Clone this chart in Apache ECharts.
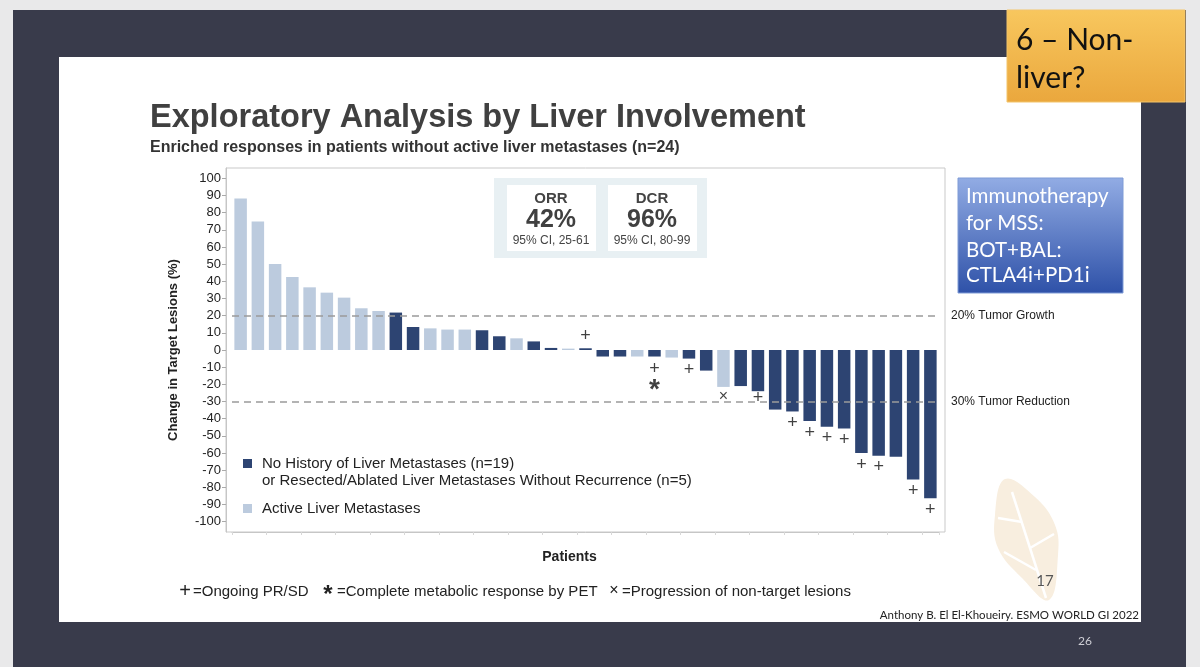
<!DOCTYPE html>
<html>
<head>
<meta charset="utf-8">
<script src="https://cdn.jsdelivr.net/npm/echarts@6.0.0/dist/echarts.min.js"></script>
<style>
html,body{margin:0;padding:0;background:#e9e9ea;}
#chart{width:1200px;height:667px;}
</style>
</head>
<body>
<div id="chart"></div>
<script>
// ---- data ----
const patients = ['P1','P2','P3','P4','P5','P6','P7','P8','P9','P10','P11','P12','P13','P14','P15','P16','P17','P18','P19','P20','P21','P22','P23','P24','P25','P26','P27','P28','P29','P30','P31','P32','P33','P34','P35','P36','P37','P38','P39','P40','P41'];
const changePct = [88.2, 74.8, 50.1, 42.5, 36.5, 33.4, 30.5, 24.3, 22.7, 21.8, 13.4, 12.6, 11.9, 11.9, 11.5, 8, 6.8, 5, 1.2, 0.8, 1.0, -3.8, -3.8, -3.8, -3.8, -4.4, -5, -12, -21.5, -21, -24, -34.7, -35.8, -41.4, -44.7, -45.7, -60, -61.6, -62.2, -75.4, -86.3];
// N = no history / resected-ablated liver mets, A = active liver metastases
const liverGroup = ['A','A','A','A','A','A','A','A','A','N','N','A','A','A','N','N','A','N','N','A','N','N','N','A','N','A','N','N','A','N','N','N','N','N','N','N','N','N','N','N','N'];
// markers: [patient index, y position]
const ongoingMarks = [[20, 8], [24, -10.8], [26, -11.8], [30, -27.7], [32, -42.6], [33, -48.6], [34, -51.5], [35, -52.3], [36, -66.8], [37, -68], [39, -82.3], [40, -93]];
const cmrMarks = [[24, -20]];
const progressionMarks = [[28, -26.3]];
const yTicks = [-100,-90,-80,-70,-60,-50,-40,-30,-20,-10,0,10,20,30,40,50,60,70,80,90,100];
const refLines = [{value: 20, label: '20% Tumor Growth'}, {value: -30, label: '30% Tumor Reduction'}];
const seriesNames = ['No History of Liver Metastases (n=19)', 'Active Liver Metastases'];

const DARK = '#2d4472', LIGHT = '#bccbde';
const FONT = '"Liberation Sans", Arial, sans-serif';
const SFONT = 'Lato, "Open Sans", sans-serif';

const darkData = changePct.map((v, i) => liverGroup[i] === 'N' ? v : '-');
const lightData = changePct.map((v, i) => liverGroup[i] === 'A' ? v : '-');

function markSeries(name, data, glyph, size, weight, dy) {
  return {
    name: name, type: 'scatter', data: data, symbolSize: 1, z: 5,
    itemStyle: {color: 'rgba(0,0,0,0)'}, silent: true,
    label: {show: true, position: 'inside', formatter: glyph, color: '#111', offset: [0, dy],
      fontSize: size, fontWeight: weight, fontFamily: FONT}
  };
}

const chart = echarts.init(document.getElementById('chart'), null, {renderer: 'canvas'});
const option = {
  animation: false,
  backgroundColor: 'transparent',
  grid: {left: 232, right: 261, top: 168, bottom: 135},
  xAxis: {
    type: 'category', data: patients,
    axisLine: {onZero: false, lineStyle: {color: '#c6c6c6'}},
    axisTick: {show: true, length: 3, interval: 1, lineStyle: {color: '#d8d8d8'}},
    axisLabel: {show: false},
    name: 'Patients', nameLocation: 'middle', nameGap: 18,
    nameTextStyle: {fontFamily: FONT, fontWeight: 'bold', fontSize: 14, color: '#222', padding: [0, 32, 0, 0]}
  },
  yAxis: {
    type: 'value', min: -106, max: 106, offset: 6,
    splitLine: {show: false},
    axisLine: {show: true, lineStyle: {color: '#c6c6c6'}},
    axisTick: {show: true, length: 4, customValues: yTicks, lineStyle: {color: '#aaa'}},
    axisLabel: {customValues: yTicks, fontFamily: FONT, fontSize: 13, color: '#222', margin: 5},
    name: 'Change in Target Lesions (%)', nameLocation: 'middle', nameGap: 46,
    nameTextStyle: {fontFamily: FONT, fontWeight: 'bold', fontSize: 13, color: '#222'}
  },
  legend: [
    {data: [seriesNames[0]], left: 238, top: 451, orient: 'vertical', selectedMode: false,
      icon: 'rect', itemWidth: 9, itemHeight: 9, itemGap: 0,
      textStyle: {fontFamily: FONT, fontSize: 15, color: '#222', padding: [0, 0, 0, 5]}},
    {data: [seriesNames[1]], left: 238, top: 496, orient: 'vertical', selectedMode: false,
      icon: 'rect', itemWidth: 9, itemHeight: 9, itemGap: 0,
      textStyle: {fontFamily: FONT, fontSize: 15, color: '#222', padding: [0, 0, 0, 5]}}
  ],
  series: [
    {
      name: seriesNames[0], type: 'bar', data: darkData, barWidth: 12.5, barGap: '-100%',
      itemStyle: {color: DARK}, z: 3,
      markLine: {
        silent: true, symbol: 'none',
        lineStyle: {color: '#9b9b9b', type: [7, 5], width: 1.5},
        label: {position: 'end', distance: 12, color: '#222', fontFamily: FONT, fontSize: 12,
          formatter: p => p.name},
        data: refLines.map(r => ({yAxis: r.value, name: r.label}))
      }
    },
    {name: seriesNames[1], type: 'bar', data: lightData, barWidth: 12.5, barGap: '-100%',
      itemStyle: {color: LIGHT}, z: 3},
    markSeries('Ongoing PR/SD', ongoingMarks, '+', 18, 'normal', 0),
    markSeries('Complete metabolic response by PET', cmrMarks, '*', 28, 'bold', 6),
    markSeries('Progression of non-target lesions', progressionMarks, '×', 16, 'normal', 1)
  ],
  graphic: {elements: [
    // slide frame
    {type: 'rect', z: -10, shape: {x: 13, y: 10, width: 1173, height: 667}, style: {fill: '#393b4b'}},
    {type: 'rect', z: -9, shape: {x: 59, y: 57, width: 1082, height: 565}, style: {fill: '#ffffff'}},
    // orange note
    {type: 'rect', z: -8, shape: {x: 1007, y: 10, width: 178, height: 92},
      style: {fill: new echarts.graphic.LinearGradient(0, 0, 0, 1, [{offset: 0, color: '#f8c75e'}, {offset: 1, color: '#eaa73d'}]), stroke: '#f3c46a', lineWidth: 1}},
    {type: 'text', z: 20, style: {x: 1016, y: 40, text: '6 – Non-', font: '30px ' + SFONT, fill: '#111', textVerticalAlign: 'middle'}},
    {type: 'text', z: 20, style: {x: 1016, y: 78, text: 'liver?', font: '30px ' + SFONT, fill: '#111', textVerticalAlign: 'middle'}},
    // blue note
    {type: 'rect', z: -8, shape: {x: 958, y: 178, width: 165, height: 115},
      style: {fill: new echarts.graphic.LinearGradient(0, 0, 0, 1, [{offset: 0, color: '#92ace4'}, {offset: 1, color: '#2e51a8'}]), stroke: '#7f9bd6', lineWidth: 1}},
    {type: 'text', z: 20, style: {x: 966, y: 196, text: 'Immunotherapy', font: '20.5px ' + SFONT, fill: '#ffffff', textVerticalAlign: 'middle'}},
    {type: 'text', z: 20, style: {x: 966, y: 223, text: 'for MSS:', font: '20.5px ' + SFONT, fill: '#ffffff', textVerticalAlign: 'middle'}},
    {type: 'text', z: 20, style: {x: 966, y: 250, text: 'BOT+BAL:', font: '20.5px ' + SFONT, fill: '#ffffff', textVerticalAlign: 'middle'}},
    {type: 'text', z: 20, style: {x: 966, y: 275, text: 'CTLA4i+PD1i', font: '20.5px ' + SFONT, fill: '#ffffff', textVerticalAlign: 'middle'}},
    // titles
    {type: 'text', z: 20, style: {x: 150, y: 118, text: 'Exploratory Analysis by Liver Involvement', font: 'bold 32.5px ' + FONT, fill: '#404040', textVerticalAlign: 'middle'}},
    {type: 'text', z: 20, style: {x: 150, y: 148, text: 'Enriched responses in patients without active liver metastases (n=24)', font: 'bold 16px ' + FONT, fill: '#333', textVerticalAlign: 'middle'}},
    // plot frame
    {type: 'rect', z: -5, shape: {x: 226, y: 168, width: 719, height: 364}, style: {fill: '#ffffff', stroke: '#c9c9c9', lineWidth: 1}},
    // ORR / DCR box
    {type: 'rect', z: -4, shape: {x: 494, y: 178, width: 213, height: 80}, style: {fill: '#e8f0f3'}},
    {type: 'rect', z: -3, shape: {x: 507, y: 185, width: 89, height: 66}, style: {fill: '#ffffff'}},
    {type: 'rect', z: -3, shape: {x: 608, y: 185, width: 89, height: 66}, style: {fill: '#ffffff'}},
    {type: 'text', z: 20, style: {x: 551, y: 199, text: 'ORR', font: 'bold 15px ' + FONT, fill: '#444', textAlign: 'center', textVerticalAlign: 'middle'}},
    {type: 'text', z: 20, style: {x: 551, y: 220, text: '42%', font: 'bold 25px ' + FONT, fill: '#404040', textAlign: 'center', textVerticalAlign: 'middle'}},
    {type: 'text', z: 20, style: {x: 551, y: 241, text: '95% CI, 25-61', font: '12px ' + FONT, fill: '#444', textAlign: 'center', textVerticalAlign: 'middle'}},
    {type: 'text', z: 20, style: {x: 652, y: 199, text: 'DCR', font: 'bold 15px ' + FONT, fill: '#444', textAlign: 'center', textVerticalAlign: 'middle'}},
    {type: 'text', z: 20, style: {x: 652, y: 220, text: '96%', font: 'bold 25px ' + FONT, fill: '#404040', textAlign: 'center', textVerticalAlign: 'middle'}},
    {type: 'text', z: 20, style: {x: 652, y: 241, text: '95% CI, 80-99', font: '12px ' + FONT, fill: '#444', textAlign: 'center', textVerticalAlign: 'middle'}},
    // legend second line
    {type: 'text', z: 20, style: {x: 262, y: 481, text: 'or Resected/Ablated Liver Metastases Without Recurrence (n=5)', font: '15px ' + FONT, fill: '#222', textVerticalAlign: 'middle'}},
    // footnote
    {type: 'text', z: 20, style: {x: 185, y: 591, text: '+', font: '20px ' + FONT, fill: '#222', textAlign: 'center', textVerticalAlign: 'middle'}},
    {type: 'text', z: 20, style: {x: 193, y: 592, text: '=Ongoing PR/SD', font: '15px ' + FONT, fill: '#222', textVerticalAlign: 'middle'}},
    {type: 'text', z: 20, style: {x: 328, y: 595, text: '*', font: 'bold 24px ' + FONT, fill: '#222', textAlign: 'center', textVerticalAlign: 'middle'}},
    {type: 'text', z: 20, style: {x: 337, y: 592, text: '=Complete metabolic response by PET', font: '15px ' + FONT, fill: '#222', textVerticalAlign: 'middle'}},
    {type: 'text', z: 20, style: {x: 614, y: 591, text: '×', font: '16px ' + FONT, fill: '#222', textAlign: 'center', textVerticalAlign: 'middle'}},
    {type: 'text', z: 20, style: {x: 622, y: 592, text: '=Progression of non-target lesions', font: '15px ' + FONT, fill: '#222', textVerticalAlign: 'middle'}},
    // leaf watermark
    {type: 'polygon', z: -6, shape: {smooth: 0.4, points: [[1005,479],[1035,497],[1055,525],[1058,555],[1049,600],[1022,578],[998,548],[995,515]]},
      style: {fill: '#f8eedf'}},
    {type: 'polyline', z: -6, shape: {points: [[1046,598],[1030,548],[1012,492]]}, style: {fill: null, stroke: '#ffffff', lineWidth: 2.5}},
    {type: 'polyline', z: -6, shape: {points: [[1030,548],[1054,534]]}, style: {fill: null, stroke: '#ffffff', lineWidth: 2.5}},
    {type: 'polyline', z: -6, shape: {points: [[1022,522],[998,518]]}, style: {fill: null, stroke: '#ffffff', lineWidth: 2.5}},
    {type: 'polyline', z: -6, shape: {points: [[1036,570],[1004,552]]}, style: {fill: null, stroke: '#ffffff', lineWidth: 2.5}},
    {type: 'text', z: 20, style: {x: 1045, y: 581, text: '17', font: '15px ' + SFONT, fill: '#555', textAlign: 'center', textVerticalAlign: 'middle'}},
    {type: 'text', z: 20, style: {x: 1139, y: 615, text: 'Anthony B. El El-Khoueiry. ESMO WORLD GI 2022', font: '11.5px ' + SFONT, fill: '#222', textAlign: 'right', textVerticalAlign: 'middle'}},
    {type: 'text', z: 20, style: {x: 1085, y: 641, text: '26', font: '12px ' + SFONT, fill: '#cfcfd6', textAlign: 'center', textVerticalAlign: 'middle'}}
  ]}
};
chart.setOption(option);
</script>
</body>
</html>
